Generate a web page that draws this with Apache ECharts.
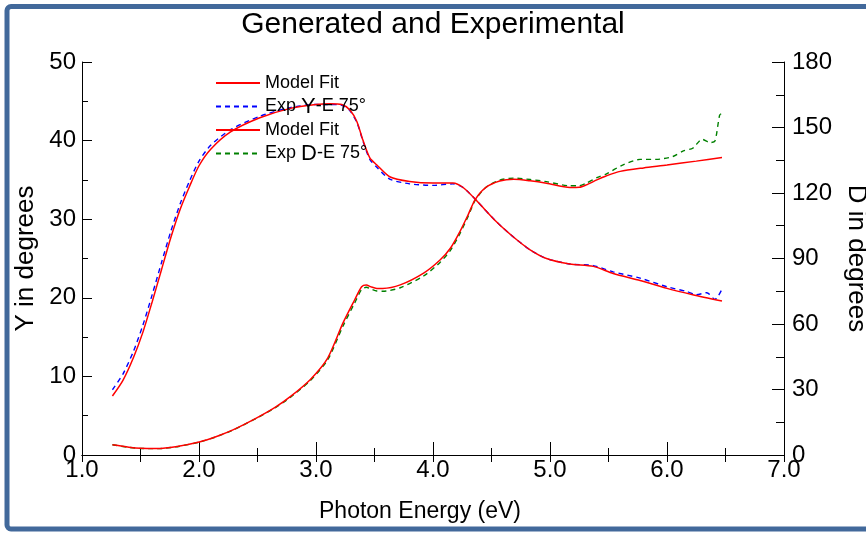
<!DOCTYPE html>
<html>
<head>
<meta charset="utf-8">
<script src="https://cdn.jsdelivr.net/npm/echarts@6/dist/echarts.min.js"></script>
<style>
html, body { margin: 0; padding: 0; background: #fff; }
#main { width: 866px; height: 533px; }
</style>
</head>
<body>
<div id="main"></div>
<script>
// Psi (left axis) - model fit
const psiFitX = [1.26,1.35,1.44,1.52,1.60,1.68,1.76,1.84,1.92,2.00,2.10,2.27,2.52,2.78,3.00,3.12,3.22,3.29,3.35,3.40,3.46,3.52,3.63,3.80,4.00,4.17,4.26,4.37,4.54,4.69,4.83,4.97,5.17,5.37,5.54,5.77,6.00,6.22,6.47];
const psiFitY = [7.5,9.5,12.4,15.6,19.5,23.6,27.7,31.3,34.2,36.8,38.9,41.1,42.9,44.1,44.6,44.7,44.6,43.9,42.4,40.1,37.8,36.9,35.4,34.8,34.6,34.6,34.0,32.4,29.7,27.7,26.1,25.0,24.3,24.0,23.1,22.2,21.2,20.4,19.6];
// Psi (left axis) - experiment
const psiExpX = [1.26,1.35,1.44,1.52,1.60,1.68,1.76,1.84,1.92,2.00,2.10,2.27,2.52,2.78,3.00,3.12,3.22,3.29,3.35,3.40,3.46,3.52,3.63,3.80,4.00,4.17,4.26,4.37,4.54,4.69,4.83,4.97,5.17,5.37,5.54,5.77,6.00,6.17,6.25,6.34,6.41,6.47];
const psiExpY = [8.3,10.3,13.2,16.5,20.4,24.5,28.5,32.0,34.9,37.4,39.4,41.4,43.1,44.2,44.6,44.6,44.5,43.8,42.3,40.0,37.6,36.6,35.1,34.5,34.3,34.5,34.0,32.4,29.7,27.7,26.1,25.0,24.3,24.1,23.3,22.5,21.4,20.8,20.4,20.65,19.8,21.1];
// Delta (right axis) - model fit
const delFitX = [1.26,1.40,1.50,1.64,1.80,2.01,2.15,2.29,2.49,2.65,2.78,2.95,3.10,3.23,3.33,3.39,3.43,3.47,3.52,3.57,3.72,3.92,4.06,4.15,4.23,4.30,4.36,4.45,4.57,4.69,4.83,4.97,5.17,5.25,5.31,5.40,5.48,5.60,5.80,6.00,6.25,6.47];
const delFitY = [4.7,3.6,3.1,3.0,3.8,6.1,8.5,11.5,16.9,21.8,26.7,34.5,44.4,60.4,71.0,77.1,77.9,77.0,76.3,76.3,77.9,83.3,89.3,94.8,102.3,110.0,117.0,122.5,125.5,126.3,125.6,124.5,122.5,122.6,123.7,126.0,127.8,129.9,131.5,132.8,134.6,136.3];
// Delta (right axis) - experiment
const delExpX = [1.26,1.40,1.50,1.64,1.80,2.01,2.15,2.29,2.49,2.65,2.78,2.95,3.10,3.23,3.33,3.39,3.43,3.47,3.52,3.57,3.72,3.92,4.06,4.15,4.23,4.30,4.36,4.45,4.57,4.69,4.83,4.97,5.17,5.25,5.31,5.40,5.48,5.62,5.77,5.91,6.05,6.14,6.22,6.30,6.37,6.41,6.45,6.47];
const delExpY = [4.7,3.5,3.0,2.9,3.7,6.0,8.4,11.4,16.8,21.6,26.4,34.0,43.6,59.0,69.6,75.8,76.8,76.0,75.1,75.0,76.6,82.0,88.2,93.8,101.4,109.3,116.6,122.5,125.9,126.8,126.2,125.2,123.3,123.3,124.5,127.0,128.7,132.8,135.4,135.4,136.7,139.3,140.5,144.6,143.1,143.8,155.7,156.5];

const xTicks = [1, 7, 1];      // min, max, step
const leftTicks = [0, 50, 10];
const rightTicks = [0, 180, 30];

function zip(xs, ys){
    return xs.map((x, i) => [x, ys[i]]);
}

const FONT = "'Liberation Sans', Arial, sans-serif";
const legendNames = {
    'fitPsi': '{a|Model Fit}',
    'expPsi': '{a|Exp }{b|Y}{a|-E 75°}',
    'fitDel': '{a|Model Fit}',
    'expDel': '{a|Exp }{b|D}{a|-E 75°}'
};

var myChart = echarts.init(document.getElementById('main'));
var option = {
    animation: false,
    backgroundColor: '#fff',
    title: {
        text: 'Generated and Experimental',
        left: 'center',
        top: 5,
        textStyle: { fontFamily: FONT, fontSize: 30, fontWeight: 'normal', color: '#000' }
    },
    graphic: [{
        type: 'rect',
        shape: { x: 7, y: 6.5, width: 1000, height: 522.5, r: 4 },
        style: { fill: 'none', stroke: '#42699b', lineWidth: 5 },
        z: 100
    }],
    legend: {
        orient: 'vertical',
        left: 210,
        top: 69,
        itemWidth: 44,
        itemHeight: 12,
        itemGap: 3.5,
        data: ['fitPsi', 'expPsi', 'fitDel', 'expDel'],
        formatter: function(name){ return legendNames[name]; },
        itemStyle: { opacity: 0 },
        textStyle: {
            fontFamily: FONT,
            color: '#000',
            rich: {
                a: { fontFamily: FONT, fontSize: 18, lineHeight: 18, color: '#000' },
                b: { fontFamily: FONT, fontSize: 22, lineHeight: 18, color: '#000' }
            }
        }
    },
    grid: { left: 82, right: 82, top: 62, bottom: 78, outerBoundsMode: 'none' },
    xAxis: [{
        type: 'value',
        min: xTicks[0], max: xTicks[1], interval: xTicks[2],
        name: 'Photon Energy (eV)',
        nameLocation: 'middle',
        nameGap: 45,
        nameTextStyle: { fontFamily: FONT, fontSize: 23, color: '#000', padding: [0, 26, 0, 0] },
        axisLine: { lineStyle: { color: '#000', width: 1 } },
        axisTick: { inside: true, length: 13, lineStyle: { color: '#000' } },
        minorTick: { show: true, splitNumber: 2, length: 7, lineStyle: { color: '#000' } },
        axisLabel: { margin: 3, fontFamily: FONT, fontSize: 24, color: '#000', formatter: v => v.toFixed(1) },
        splitLine: { show: false }
    }, {
        type: 'value',
        position: 'top',
        min: xTicks[0], max: xTicks[1], interval: 0.5,
        axisLine: { show: true, lineStyle: { color: '#000', width: 1 } },
        axisTick: { show: true, inside: true, length: 7, lineStyle: { color: '#000' } },
        axisLabel: { show: false },
        splitLine: { show: false }
    }],
    yAxis: [{
        type: 'value',
        min: leftTicks[0], max: leftTicks[1], interval: leftTicks[2],
        name: 'Y in degrees',
        nameLocation: 'middle',
        nameGap: 43,
        nameTextStyle: { fontFamily: FONT, fontSize: 26, color: '#000' },
        axisLine: { show: true, lineStyle: { color: '#000', width: 1 } },
        axisTick: { show: true, inside: true, length: 10, lineStyle: { color: '#000' } },
        minorTick: { show: true, splitNumber: 2, length: 6, lineStyle: { color: '#000' } },
        axisLabel: { margin: 6, fontFamily: FONT, fontSize: 24, color: '#000' },
        splitLine: { show: false }
    }, {
        type: 'value',
        position: 'right',
        min: rightTicks[0], max: rightTicks[1], interval: rightTicks[2],
        name: 'D in degrees',
        nameLocation: 'middle',
        nameRotate: -90,
        nameGap: 48,
        nameTextStyle: { fontFamily: FONT, fontSize: 26, color: '#000' },
        axisLine: { show: true, lineStyle: { color: '#000', width: 1 } },
        axisTick: { show: true, inside: true, length: 12, lineStyle: { color: '#000' } },
        minorTick: { show: true, splitNumber: 2, length: 8, lineStyle: { color: '#000' } },
        axisLabel: { margin: 8, fontFamily: FONT, fontSize: 24, color: '#000' },
        splitLine: { show: false }
    }],
    series: [
        {
            name: 'expPsi', type: 'line', yAxisIndex: 0, showSymbol: false, symbol: 'none', smooth: 0.25,
            lineStyle: { color: '#0000ff', width: 1.4, type: [5, 4] }, itemStyle: { color: '#0000ff' },
            data: zip(psiExpX, psiExpY)
        },
        {
            name: 'expDel', type: 'line', yAxisIndex: 1, showSymbol: false, symbol: 'none', smooth: 0.25,
            lineStyle: { color: '#008000', width: 1.4, type: [5, 4] }, itemStyle: { color: '#008000' },
            data: zip(delExpX, delExpY)
        },
        {
            name: 'fitPsi', type: 'line', yAxisIndex: 0, showSymbol: false, symbol: 'none', smooth: 0.25,
            lineStyle: { color: '#ff0000', width: 1.5 }, itemStyle: { color: '#ff0000' },
            data: zip(psiFitX, psiFitY)
        },
        {
            name: 'fitDel', type: 'line', yAxisIndex: 1, showSymbol: false, symbol: 'none', smooth: 0.25,
            lineStyle: { color: '#ff0000', width: 1.5 }, itemStyle: { color: '#ff0000' },
            data: zip(delFitX, delFitY)
        }
    ]
};
myChart.setOption(option);
</script>
</body>
</html>
